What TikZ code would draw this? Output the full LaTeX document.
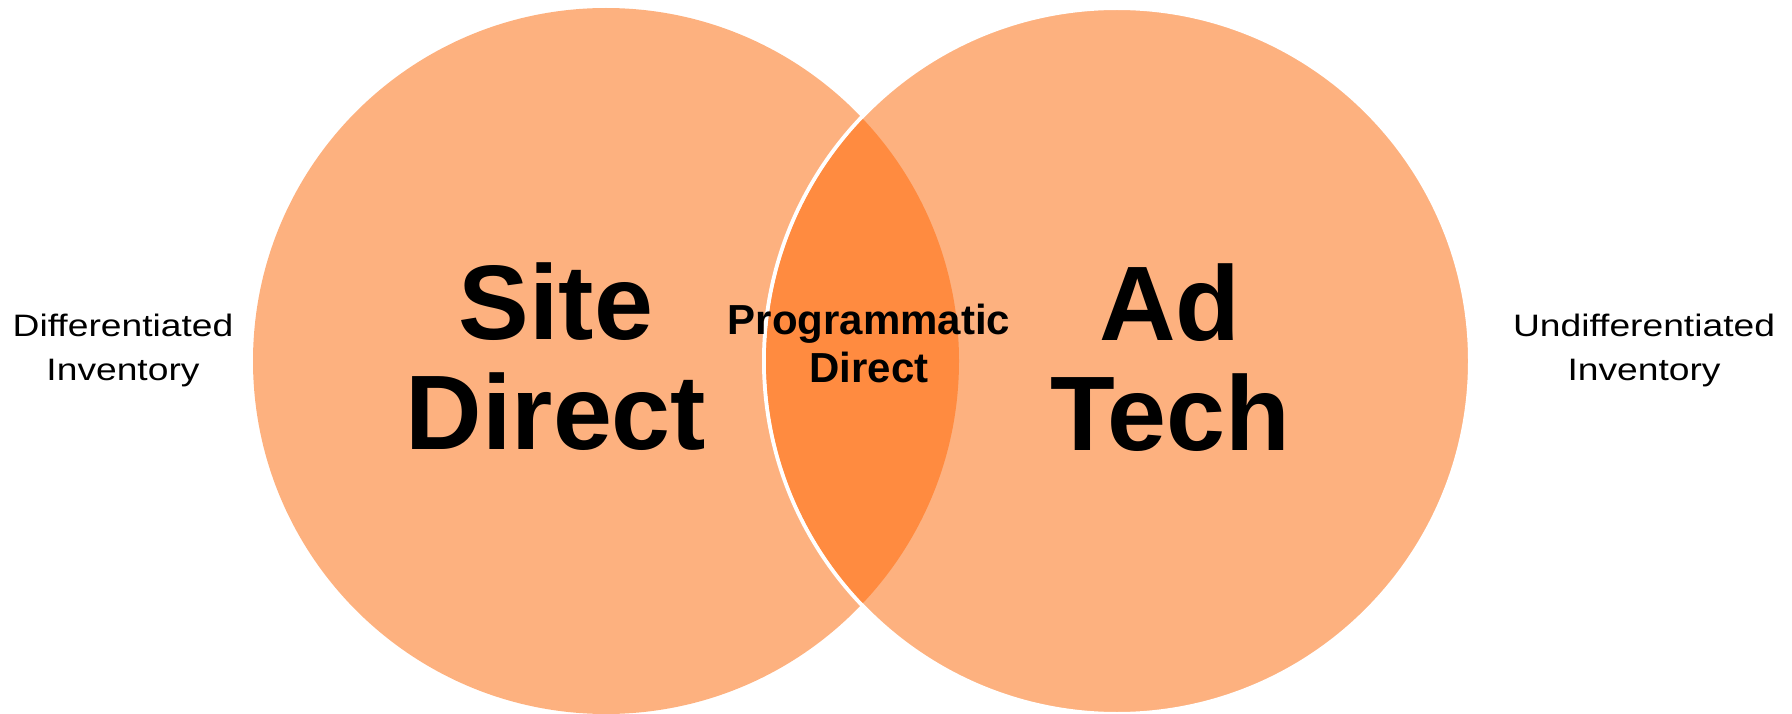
\documentclass[tikz,border=0pt]{standalone}
\usepackage{fontspec}
\setmainfont{Liberation Sans}
\newfontfamily\sidefont[FakeStretch=1.2]{Liberation Sans}
\definecolor{lightorange}{RGB}{253,177,127}
\definecolor{darkorange}{RGB}{255,139,64}

\begin{document}
\begin{tikzpicture}[x=1pt,y=-1pt,
    big/.style={anchor=north,inner sep=0pt,align=center,font=\fontsize{106}{110}\selectfont\bfseries},
    mid/.style={anchor=north,inner sep=0pt,align=center,font=\fontsize{42}{48}\selectfont\bfseries},
    side/.style={anchor=north,inner sep=0pt,align=center,font=\sidefont\fontsize{31}{43.5}\selectfont}]
                \useasboundingbox (0,0) rectangle (1792,714);
                \coordinate (L) at (606,361);
                \coordinate (R) at (1117,361);

                \fill[lightorange] (L) circle (353);
                \draw[white, line width=4, fill=lightorange] (R) circle (353);
                \begin{scope}
                    \clip (L) circle (353);
                    \fill[darkorange] (R) circle (351);
                \end{scope}

                \node[big] (site) at (556,262) {Site\\Direct};
                \node[big] (adtech) at (1170,263) {Ad\\Tech};
                \node[mid] (prog) at (869,304) {Programmatic\\Direct};
                \node[side] (diff) at (123,314) {Differentiated\\Inventory};
                \node[side] (undiff) at (1644,314) {Undifferentiated\\Inventory};
                % \node[side] at (866,690) {};
\end{tikzpicture}
\end{document}
